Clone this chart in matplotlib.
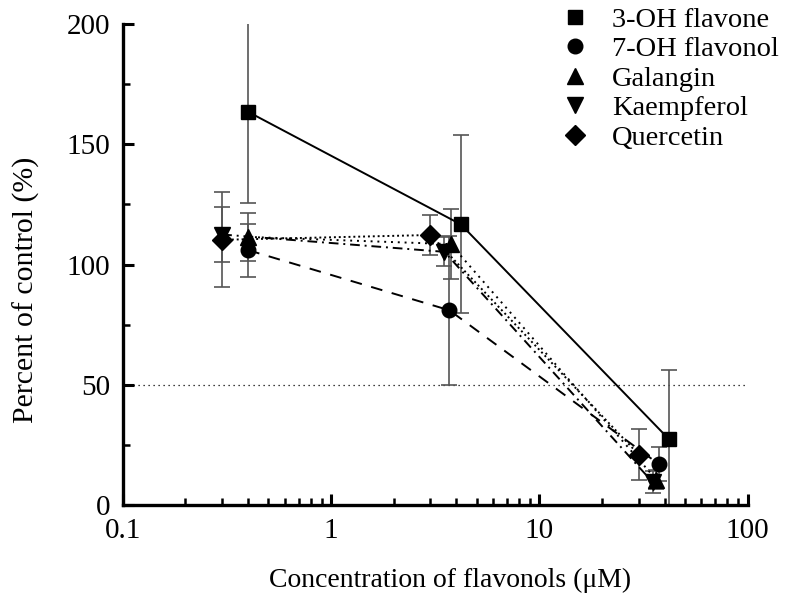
import matplotlib
matplotlib.use("Agg")
import matplotlib.pyplot as plt
from matplotlib.ticker import LogLocator, FixedLocator, NullFormatter, MultipleLocator

plt.rcParams["font.family"] = ["Liberation Serif", "DejaVu Serif"]

# ── Data (concentration in uM, percent of control) ──────────
flavone_x   = [0.4, 4.2, 42.0]
flavone_y   = [163.5, 116.7, 27.3]
flavone_err = [38.0, 37.0, 29.0]

flavonol_x   = [0.4, 3.7, 37.5]
flavonol_y   = [106.0, 81.0, 17.0]
flavonol_err = [11.0, 31.0, 7.0]

galangin_x   = [0.4, 3.75, 36.5]
galangin_y   = [111.5, 108.5, 10.5]
galangin_err = [10.0, 14.5, 4.0]

kaempferol_x   = [0.3, 3.5, 35.0]
kaempferol_y   = [112.5, 105.3, 9.5]
kaempferol_err = [11.5, 6.0, 4.5]

quercetin_x   = [0.3, 3.0, 30.0]
quercetin_y   = [110.3, 112.3, 21.0]
quercetin_err = [19.7, 8.3, 10.5]

labels = ["3-OH flavone", "7-OH flavonol", "Galangin", "Kaempferol", "Quercetin"]

series = [
    (flavone_x, flavone_y, flavone_err, "s", 9.5, "-"),
    (flavonol_x, flavonol_y, flavonol_err, "o", 10.5, (0, (6, 5))),
    (galangin_x, galangin_y, galangin_err, "^", 12, (0, (1, 2.5))),
    (kaempferol_x, kaempferol_y, kaempferol_err, "v", 12, (0, (5, 2.5, 1, 2.5))),
    (quercetin_x, quercetin_y, quercetin_err, "D", 10, (0, (1, 1.5))),
]

fig = plt.figure(figsize=(7.87, 6.02), dpi=100)
ax = fig.add_axes([0.156, 0.161, 0.794, 0.799])

ax.axhline(50, color="black", lw=0.9, ls=(0, (1, 3)), zorder=1)

handles = []
for (x, y, err, mk, ms, ls), lab in zip(series, labels):
    ax.errorbar(x, y, yerr=err, fmt="none", ecolor="#555555", elinewidth=1.2,
                capsize=6, capthick=1.2, zorder=2)
    line, = ax.plot(x, y, color="black", lw=1.4, ls=ls, marker=mk,
                    markersize=ms, markerfacecolor="black",
                    markeredgecolor="black", zorder=3, label=lab)
    handles.append(line)

ax.set_xscale("log")
ax.set_xlim(0.1, 100)
ax.set_ylim(0, 200)
ax.xaxis.set_major_locator(FixedLocator([0.1, 1, 10, 100]))
ax.set_xticklabels(["0.1", "1", "10", "100"])
ax.xaxis.set_minor_locator(LogLocator(base=10, subs=range(2, 10)))
ax.xaxis.set_minor_formatter(NullFormatter())
ax.yaxis.set_major_locator(MultipleLocator(50))
ax.yaxis.set_minor_locator(MultipleLocator(25))

for side in ("top", "right"):
    ax.spines[side].set_visible(False)
for side in ("left", "bottom"):
    ax.spines[side].set_linewidth(2.4)

ax.tick_params(which="major", direction="in", length=8, width=2.2,
               labelsize=21, pad=9)
ax.tick_params(which="minor", direction="in", length=5, width=1.8)

ax.set_xlabel("Concentration of flavonols (\u03bcM)", fontsize=20)
ax.set_ylabel("Percent of control (%)", fontsize=21.5)
ax.xaxis.set_label_coords(0.523, -0.13)
ax.yaxis.set_label_coords(-0.133, 0.447)

# legend without lines, markers only
leg = ax.legend(handles=handles, loc="upper left",
                bbox_to_anchor=(0.687, 1.06), frameon=False, fontsize=20.5,
                handlelength=0.8, handletextpad=0.9, labelspacing=0.13,
                borderaxespad=0)
for h in leg.legend_handles:
    h.set_linestyle("none")

fig.savefig("out.png", dpi=100)
